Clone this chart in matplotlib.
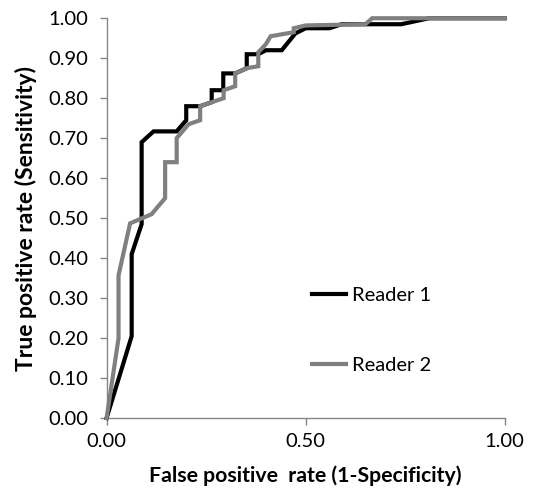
# plot.py
# ROC curves for two readers, redrawn in an Excel-like style.

import matplotlib
matplotlib.use("Agg")
import matplotlib.pyplot as plt

plt.rcParams["font.family"] = ["Lato", "DejaVu Sans"]

# Reader 1 (black)
reader1_fpr = [0.0, 0.063, 0.063, 0.088, 0.088, 0.118, 0.176, 0.200, 0.200, 0.235,
               0.264, 0.264, 0.293, 0.293, 0.323, 0.352, 0.352, 0.381, 0.400, 0.440,
               0.474, 0.500, 0.560, 0.590, 0.740, 0.810, 1.0]
reader1_tpr = [0.0, 0.205, 0.410, 0.485, 0.690, 0.717, 0.717, 0.745, 0.780, 0.780,
               0.790, 0.820, 0.820, 0.862, 0.862, 0.875, 0.910, 0.910, 0.920, 0.920,
               0.962, 0.975, 0.975, 0.985, 0.985, 1.0, 1.0]

# Reader 2 (grey)
reader2_fpr = [0.0, 0.030, 0.030, 0.059, 0.113, 0.147, 0.147, 0.176, 0.176, 0.206,
               0.235, 0.235, 0.264, 0.294, 0.294, 0.323, 0.323, 0.352, 0.381, 0.381,
               0.400, 0.412, 0.470, 0.470, 0.500, 0.650, 0.667, 1.0]
reader2_tpr = [0.0, 0.200, 0.357, 0.487, 0.510, 0.550, 0.640, 0.640, 0.700, 0.735,
               0.745, 0.780, 0.790, 0.800, 0.820, 0.830, 0.862, 0.875, 0.880, 0.915,
               0.935, 0.955, 0.965, 0.975, 0.982, 0.985, 1.0, 1.0]

x_ticks = [0.0, 0.5, 1.0]
y_ticks = [0.0, 0.1, 0.2, 0.3, 0.4, 0.5, 0.6, 0.7, 0.8, 0.9, 1.0]

AXIS_GREY = "#868686"


def main():
    fig = plt.figure(figsize=(5.33, 4.93), dpi=100)
    ax = fig.add_axes([0.200, 0.152, 0.747, 0.811])

    ax.plot(reader1_fpr, reader1_tpr, color="black", lw=3.0,
            solid_joinstyle="miter", label="Reader 1", zorder=3, clip_on=False)
    ax.plot(reader2_fpr, reader2_tpr, color="#808080", lw=3.0,
            solid_joinstyle="miter", label="Reader 2", zorder=4, clip_on=False)

    ax.set_xlim(0, 1)
    ax.set_ylim(0, 1)
    ax.set_xticks(x_ticks)
    ax.set_yticks(y_ticks)
    ax.set_xticklabels([f"{v:.2f}" for v in x_ticks])
    ax.set_yticklabels([f"{v:.2f}" for v in y_ticks])

    for side in ("top", "right"):
        ax.spines[side].set_visible(False)
    for side in ("left", "bottom"):
        ax.spines[side].set_color(AXIS_GREY)
        ax.spines[side].set_linewidth(1.0)

    ax.tick_params(axis="both", direction="out", color=AXIS_GREY, length=5,
                   width=1.0, labelsize=14.5, labelcolor="black")
    ax.tick_params(axis="y", pad=8)
    ax.tick_params(axis="x", pad=6)

    ax.set_xlabel("False positive  rate (1-Specificity)", fontsize=15.3,
                  fontweight="bold", labelpad=11)
    ax.set_ylabel("True positive rate (Sensitivity)", fontsize=16.5,
                  fontweight="bold", labelpad=8)

    ax.legend(loc="upper left", bbox_to_anchor=(0.516, 0.3285), frameon=False,
              fontsize=14.5, handlelength=1.7, handletextpad=0.3,
              labelspacing=2.65, borderpad=0.0, borderaxespad=0.0)

    fig.savefig("out.png", dpi=100)


if __name__ == "__main__":
    main()
